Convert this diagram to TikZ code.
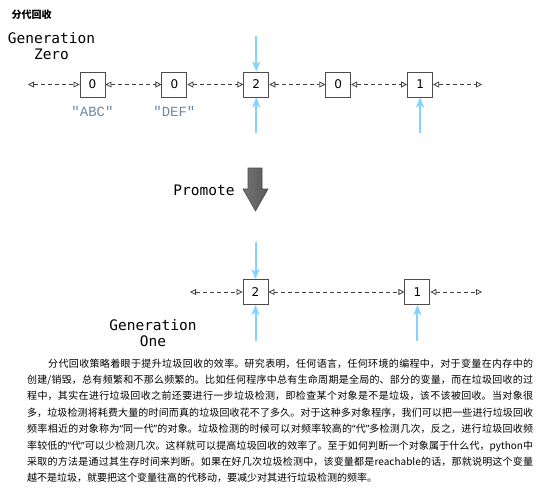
\documentclass[tikz,border=0pt]{standalone}
\usepackage{fontspec}
\setmainfont{Liberation Serif}
\newfontfamily\cjk{Noto Sans CJK SC}
\newfontfamily\genfont{DejaVu Sans Mono}
\newfontfamily\strfont{Liberation Mono}
\newfontfamily\numfont{DejaVu Sans}
\newfontfamily\quotefont{Noto Sans}
\newcommand\qopen{{\quotefont “}}
\newcommand\qclose{{\quotefont ”}}
\usetikzlibrary{positioning}
\usetikzlibrary{arrows.meta}
\definecolor{ptrblue}{RGB}{128,212,255}
\definecolor{strgray}{RGB}{110,135,160}
\tikzset{obj/.style = {draw=black!70, fill=white, line width=0.9pt,
                       minimum size=25pt, inner sep=0,
                       font=\numfont\fontsize{12}{12}\selectfont}}
\tikzset{link/.style = {black!75, line width=0.8pt, dash pattern=on 4pt off 3pt,
                        {Triangle[open,length=6pt,width=6pt]}-{Triangle[open,length=6pt,width=6pt]}}}
\tikzset{ref/.style = {draw=ptrblue, line width=2pt, -{Stealth[length=10pt,width=8pt,inset=2.5pt]}}}
\tikzset{gen/.style = {font=\genfont\fontsize{14.5}{16}\selectfont, align=center}}
\tikzset{strlab/.style = {strgray, font=\strfont\fontsize{14}{14}\selectfont}}

\begin{document}
\begin{tikzpicture}[x=1pt,y=-1pt]
      \useasboundingbox (0,0) rectangle (539,491);

      \node[anchor=base west, font=\cjk\bfseries\fontsize{10}{10}\selectfont]
        (title) at (8,18) {分代回收};

      % generation zero
      \node[gen] (genzero) at (51.5,46) {Generation\\Zero};
      \node[obj] (z1) at (92.5,84.5) {0};
      \node[obj, right=56pt of z1] (z2) {0};
      \node[obj, right=56pt of z2] (z3) {2};
      \node[obj, right=56pt of z3] (z4) {0};
      \node[obj, right=56pt of z4] (z5) {1};
      \coordinate (zl) at (28,84.5);
      \coordinate (zr) at (482,84.5);
      \draw[link] (zl) -- (z1);
      \draw[link] (z1) -- (z2);
      \draw[link] (z2) -- (z3);
      \draw[link] (z3) -- (z4);
      \draw[link] (z4) -- (z5);
      \draw[link] (z5) -- (zr);
      \node[strlab, below=5pt of z1] (abc) {"ABC"};
      \node[strlab, below=5pt of z2] (def) {"DEF"};

      \coordinate (z3top) at ([yshift=36pt]z3.north);
      \coordinate (z3bot) at ([yshift=-36pt]z3.south);
      \coordinate (z5bot) at ([yshift=-36pt]z5.south);
      \draw[ref] (z3top) -- (z3.north);
      \draw[ref] (z3bot) -- (z3.south);
      \draw[ref] (z5bot) -- (z5.south);

      % promote
      \node[font=\genfont\fontsize{14.5}{16}\selectfont] (promote) at (204,190) {Promote};
      \draw[black!70, line width=0.6pt, left color=black!55, middle color=black!30,
            right color=black!65, shading angle=90]
        (248,168) -- (262,168) -- (262,189) -- (268,189) -- (255.5,211)
        -- (243,189) -- (248,189) -- cycle;

      % generation one
      \node[obj] (o2) at (255.5,292) {2};
      \node[obj, right=136pt of o2] (o1) {1};
      \coordinate (ol) at (190,292);
      \coordinate (or) at (482,292);
      \draw[link] (ol) -- (o2);
      \draw[link] (o2) -- (o1);
      \draw[link] (o1) -- (or);
      \coordinate (o2top) at ([yshift=37pt]o2.north);
      \coordinate (o2bot) at ([yshift=-36pt]o2.south);
      \coordinate (o1bot) at ([yshift=-36pt]o1.south);
      \draw[ref] (o2top) -- (o2.north);
      \draw[ref] (o2bot) -- (o2.south);
      \draw[ref] (o1bot) -- (o1.south);
      \node[gen] (genone) at (153,333.5) {Generation\\One};

      % text
      \node[anchor=base west, text width=506pt, align=justify, inner sep=0,
            font=\cjk\fontsize{10}{16.4}\selectfont] (para) at (27,367)
        {\XeTeXlinebreaklocale "zh"\XeTeXlinebreakskip=0pt plus 1pt minus 0.3pt%
         \hspace*{21pt}分代回收策略着眼于提升垃圾回收的效率。研究表明，任何语言，任何环境的编程中，对于变量在内存中的\linebreak
         创建/销毁，总有频繁和不那么频繁的。比如任何程序中总有生命周期是全局的、部分的变量，而在垃圾回收的过\linebreak
         程中，其实在进行垃圾回收之前还要进行一步垃圾检测，即检查某个对象是不是垃圾，该不该被回收。当对象很\linebreak
         多，垃圾检测将耗费大量的时间而真的垃圾回收花不了多久。对于这种多对象程序，我们可以把一些进行垃圾回收\linebreak
         频率相近的对象称为\qopen 同一代\qclose 的对象。垃圾检测的时候可以对频率较高的\qopen 代\qclose 多检测几次，反之，进行垃圾回收频\linebreak
         率较低的\qopen 代\qclose 可以少检测几次。这样就可以提高垃圾回收的效率了。至于如何判断一个对象属于什么代，python中\linebreak
         采取的方法是通过其生存时间来判断。如果在好几次垃圾检测中，该变量都是reachable的话，那就说明这个变量\linebreak
         越不是垃圾，就要把这个变量往高的代移动，要减少对其进行垃圾检测的频率。};
\end{tikzpicture}
\end{document}
